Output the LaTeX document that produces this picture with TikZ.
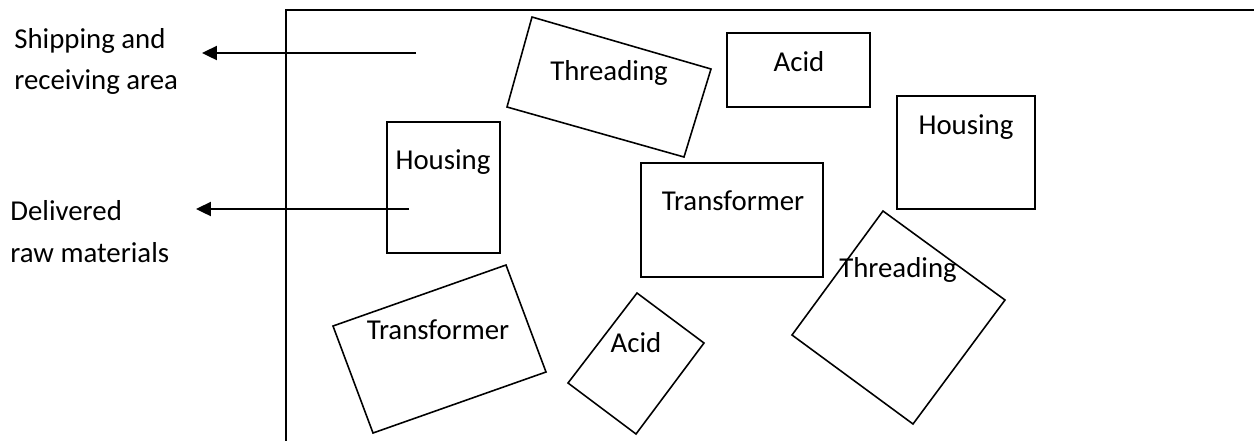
\documentclass[tikz,border=0pt]{standalone}
\usepackage{fontspec}
\setmainfont{Carlito}
\usepackage{tikz}
\usetikzlibrary{arrows.meta}

\begin{document}
\begin{tikzpicture}
        [
          x=0.02cm, y=-0.02cm,
          wall/.style={line width=1.1pt},
          machine/.style={line width=0.9pt},
          flow/.style={line width=1.1pt, -{Triangle[length=8.5pt,width=8pt]}},
          label/.style={anchor=base, font=\fontsize{16.4}{20}\selectfont, inner sep=0pt},
          side/.style={anchor=base west, font=\fontsize{16.4}{20}\selectfont, inner sep=0pt}
        ]
        \useasboundingbox (0,0) rectangle (1254,441);
        % plant walls
        \draw[wall] (1254,10) -- (286,10) -- (286,441);
        % square departments
        \foreach \xa/\ya/\xb/\yb in {387/122/500/253, 727/33/870/107, 897/96/1035/209, 641/163/823/277} {
            \draw[machine] (\xa,\ya) rectangle (\xb,\yb);
        }
        % turned departments
        \draw[machine] (532,17) -- (711,69) -- (684,157) -- (507,107) -- cycle;
        \draw[machine] (883,211) -- (1005,300) -- (913,424) -- (792,335) -- cycle;
        \draw[machine] (506,265) -- (546,372) -- (373,433) -- (333,326) -- cycle;
        \draw[machine] (637,293) -- (704,343) -- (636,434) -- (568,383) -- cycle;
        % labels
        \node[label] (threadA) at (609,80) {Threading};
        \node[label] (acidA) at (799,71) {Acid};
        \node[label] (housingB) at (966,134) {Housing};
        \node[label] (housingA) at (443,169) {Housing};
        \node[label] (transA) at (733,210) {Transformer};
        \node[label] (threadB) at (898,277) {Threading};
        \node[label] (transB) at (438,339) {Transformer};
        \node[label] (acidB) at (636,352) {Acid};
        \node[side] (ship) at (14,48) {Shipping and};
        \node[side] (recv) at (14,89) {receiving area};
        \node[side] (deliv) at (10,220) {Delivered};
        \node[side] (raw) at (10,262) {raw materials};
        % flows out of the plant
        \coordinate (shipfrom) at (416,53);
        \coordinate (shipto) at (202,53);
        \coordinate (rawfrom) at (409,209);
        \coordinate (rawto) at (196,209);
        \draw[flow] (shipfrom) -- (shipto);
        \draw[flow] (rawfrom) -- (rawto);
\end{tikzpicture}
\end{document}
